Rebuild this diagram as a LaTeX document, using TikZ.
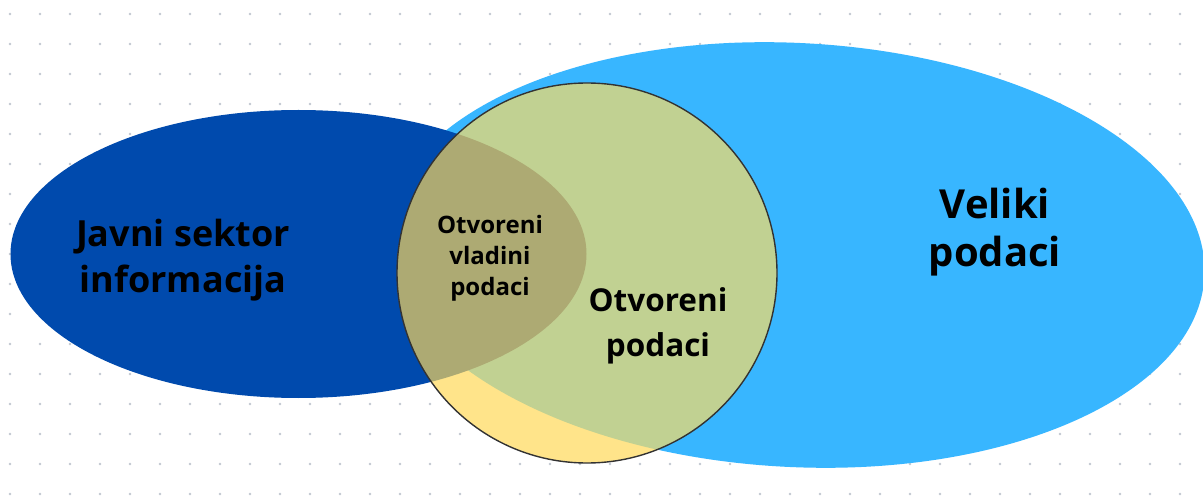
\documentclass[tikz,border=0pt]{standalone}
\usepackage{fontspec}
\setmainfont{Open Sans}
\definecolor{darkblue}{HTML}{004AAD}
\definecolor{lightblue}{HTML}{38B6FF}
\definecolor{circyellow}{HTML}{FFE48A}
\definecolor{circgreen}{HTML}{C1D192}
\definecolor{circolive}{HTML}{ADAA73}
\definecolor{dotgray}{HTML}{C2C7D0}
\begin{document}
\begin{tikzpicture}[x=1pt,y=-1pt,
  lbl/.style={inner sep=0pt, align=center, text=black, font=\bfseries},
  dotmark/.style={fill=dotgray, draw=none},
  bigrot/.style={rotate around={-3:(795,255)}}]
\useasboundingbox (0,0) rectangle (1203,497);
\fill[white] (0,0) rectangle (1203,497);
% dotted grid
\foreach \i in {0,...,40} {
  \foreach \j in {0,...,16} {
    \fill[dotmark] ({10+30*\i},{14+30*\j}) circle (1.4);
  }
}
% shapes
\coordinate (pubc) at (298.5,254);
\coordinate (opc) at (587,273);
\fill[lightblue, bigrot] (795,255) ellipse [x radius=410, y radius=212];
\fill[darkblue] (pubc) ellipse [x radius=288, y radius=144];
\fill[circyellow] (opc) circle (190);
\begin{scope}
  \clip (opc) circle (190);
  \fill[circgreen, bigrot] (795,255) ellipse [x radius=410, y radius=212];
  \fill[circolive] (pubc) ellipse [x radius=288, y radius=144];
\end{scope}
\draw[draw=black!80, line width=1.4] (opc) circle (190);
% labels
\node[lbl, font=\bfseries\fontsize{36}{46}\selectfont] (javni) at (183,260) {Javni sektor\\informacija};
\node[lbl, font=\bfseries\fontsize{40}{48}\selectfont] (veliki) at (995,232) {Veliki\\podaci};
\node[lbl, font=\bfseries\fontsize{31.5}{45}\selectfont] (otv) at (658,326) {Otvoreni\\podaci};
\node[lbl, font=\bfseries\fontsize{24}{31}\selectfont] (ovp) at (490,258) {Otvoreni\\vladini\\podaci};
\end{tikzpicture}
\end{document}
